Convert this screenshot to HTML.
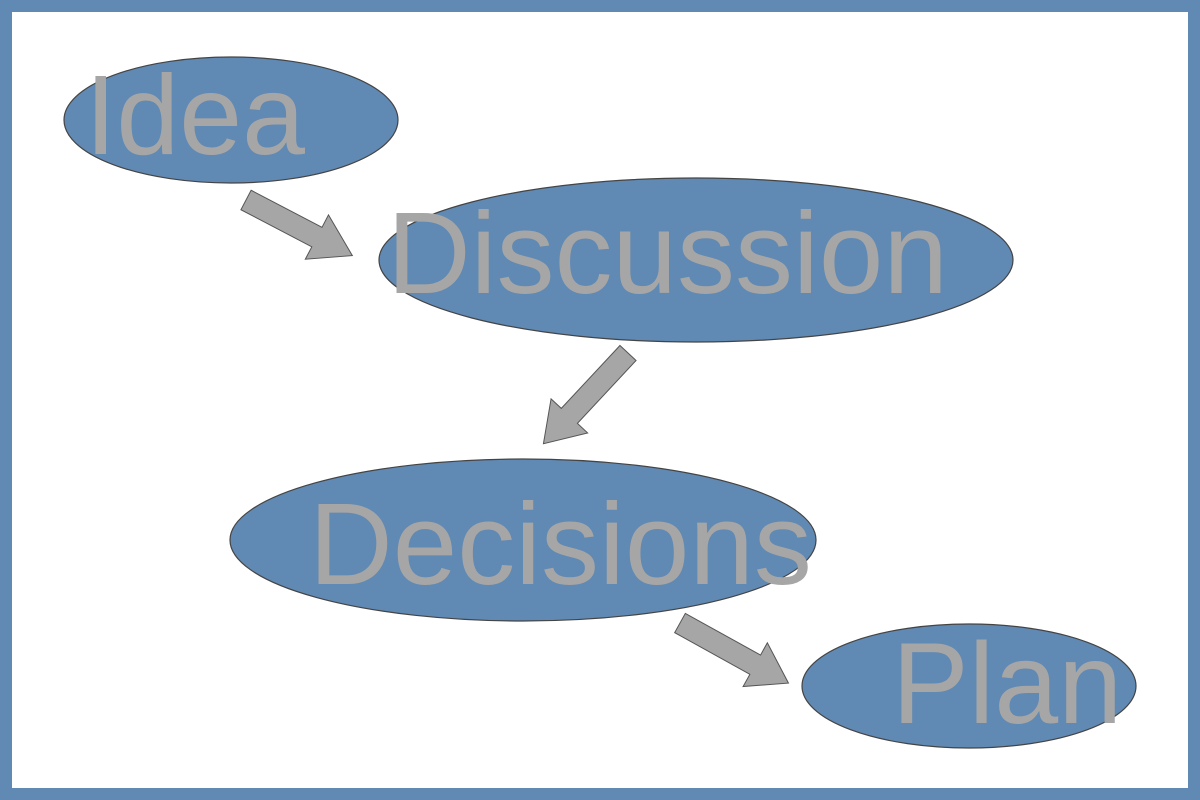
<!DOCTYPE html>
<html><head><style>
html,body{margin:0;padding:0;width:1200px;height:800px;overflow:hidden;background:#6089b3}
svg{display:block}
text{font-family:"Liberation Sans",sans-serif;fill:#a6a6a6}
</style></head><body>
<svg width="1200" height="800" viewBox="0 0 1200 800">
<rect x="0" y="0" width="1200" height="800" fill="#6089b3"/>
<rect x="12" y="12" width="1176" height="776" fill="#ffffff"/>
<g fill="#a6a6a6" stroke="#555" stroke-width="1">
<polygon transform="translate(246,200) rotate(27.6)" points="0,-11 80,-11 80,-25 120,0 80,25 80,11 0,11"/>
<polygon transform="translate(628,353) rotate(133)" points="0,-11 86,-11 86,-25 124,0 86,25 86,11 0,11"/>
<polygon transform="translate(680,623) rotate(29)" points="0,-11 86,-11 86,-25 124,0 86,25 86,11 0,11"/>
</g>
<g fill="#6089b3" stroke="#444" stroke-width="1.2">
<ellipse cx="231" cy="120" rx="167" ry="63"/>
<ellipse cx="696" cy="260" rx="317" ry="82"/>
<ellipse cx="523" cy="540" rx="293" ry="81"/>
<ellipse cx="969" cy="686" rx="167" ry="62"/>
</g>
<text x="85" y="154" font-size="113">Idea</text>
<text x="387" y="293" font-size="116">Discussion</text>
<text x="309" y="584" font-size="116">Decisions</text>
<text x="892" y="723" font-size="115">Plan</text>
</svg>
</body></html>
